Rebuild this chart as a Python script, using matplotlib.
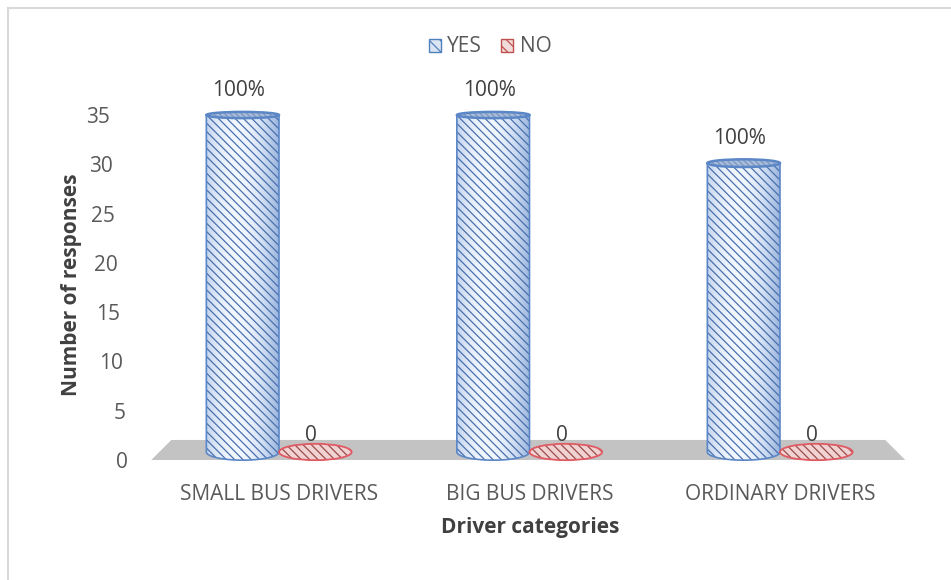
import matplotlib.pyplot as plt
import matplotlib.transforms as mtransforms
from matplotlib.patches import Ellipse, PathPatch, Polygon, Patch
from matplotlib.path import Path
import numpy as np

plt.rcParams['font.family'] = ['Open Sans', 'DejaVu Sans']
plt.rcParams['hatch.linewidth'] = 0.9

categories = ['SMALL BUS DRIVERS', 'BIG BUS DRIVERS', 'ORDINARY DRIVERS']
yes_counts = [35, 35, 30]
no_counts = [0, 0, 0]
y_ticks = [0, 5, 10, 15, 20, 25, 30, 35]

text_grey = '#595959'
title_grey = '#404040'
fs = 15

fig = plt.figure(figsize=(9.51, 5.80), dpi=100)
ax = fig.add_axes([150 / 951, 1 - 470 / 580, 760 / 951, 380 / 580])

x = np.arange(len(categories))
offset = 0.145
width = 0.29


def cylinder(cx, value, face, light, edge, hatch_col):
    # perspective: caps get flatter the higher they sit
    h_bot = 1.7
    h_top = max(h_bot - value * 0.03, 0.6)
    half = width / 2
    t = np.linspace(np.pi, 2 * np.pi, 40)
    arc_x = cx + half * np.cos(t)
    arc_y = h_bot / 2 * np.sin(t)
    verts = [(cx - half, value)] + list(zip(arc_x, arc_y)) + [(cx + half, value), (cx - half, value)]
    body = Path(verts, closed=True)

    if value > 0:
        clip = PathPatch(body, facecolor='none', edgecolor='none', transform=ax.transData)
        ax.add_patch(clip)
        s = np.linspace(0, 1, 200)
        f = np.clip(1 - ((s - 0.42) / 0.62) ** 2, 0, 1)
        c0 = np.array(face)
        c1 = np.array(light)
        grad = (c0[None, :] * (1 - f[:, None]) + c1[None, :] * f[:, None])[None, :, :]
        im = ax.imshow(grad, extent=[cx - half, cx + half, -h_bot, value],
                       aspect='auto', origin='lower', zorder=2)
        im.set_clip_path(clip)
        ax.add_patch(PathPatch(body, facecolor='none', edgecolor=hatch_col, hatch='\\\\\\\\',
                               linewidth=0, zorder=3))
        ax.add_patch(PathPatch(body, facecolor='none', edgecolor=edge, linewidth=1.2, zorder=4))
        ax.add_patch(Ellipse((cx, value), width, h_top, facecolor='#a9bcd9', edgecolor='#7d97c0',
                             hatch='\\\\\\\\\\\\', linewidth=0, zorder=5))
        ax.add_patch(Ellipse((cx, value), width, h_top, facecolor='none', edgecolor=edge,
                             linewidth=1.8, zorder=6))
    else:
        ax.add_patch(Ellipse((cx, value), width, h_bot, facecolor=light, edgecolor=hatch_col,
                             hatch='\\\\\\\\', linewidth=0, zorder=3))
        ax.add_patch(Ellipse((cx, value), width, h_bot, facecolor='none', edgecolor=edge,
                             linewidth=1.3, zorder=4))


# grey floor of the 3D plot
floor = Polygon([(-0.51, -0.83), (-0.43, 1.25), (2.42, 1.25), (2.50, -0.83)],
                closed=True, facecolor='#c3c3c3', edgecolor='none', zorder=1)
ax.add_patch(floor)

for i in range(len(categories)):
    cylinder(x[i] - offset, yes_counts[i], (0.55, 0.67, 0.85), (0.95, 0.97, 1.0),
             '#5b87c7', '#4a70ad')
    cylinder(x[i] + offset, no_counts[i], (0.95, 0.85, 0.85), '#f0d2d2',
             '#e05a63', '#9c4b4b')

    total = yes_counts[i] + no_counts[i]
    pct = yes_counts[i] / total * 100
    ax.annotate(f'{pct:.0f}%', (x[i] - offset, yes_counts[i]), xytext=(-3, 10),
                textcoords='offset points', ha='center', va='bottom',
                fontsize=fs, color=title_grey, zorder=7)
    ax.annotate(f'{no_counts[i]}', (x[i] + offset, no_counts[i]), xytext=(-3, 4),
                textcoords='offset points', ha='center', va='bottom',
                fontsize=fs, color=title_grey, zorder=7)

ax.set_xlim(-0.515, 2.519)
ax.set_ylim(-1.87, 37.6)

ax.set_xticks(x)
ax.set_xticklabels(categories, fontsize=fs, color=text_grey)
ax.set_yticks(y_ticks)
ax.set_yticklabels([str(v) for v in y_ticks], fontsize=fs, color=text_grey)
ax.tick_params(axis='both', length=0)
ax.tick_params(axis='x', pad=10)
ax.tick_params(axis='y', pad=16)

# tick labels lean with the perspective of the back wall
for v, lab in zip(y_ticks, ax.get_yticklabels()):
    dx = -v * 0.5 / 100
    dy = -(35 - v) / 35 * 8 / 100
    lab.set_transform(lab.get_transform() + mtransforms.ScaledTranslation(dx, dy, fig.dpi_scale_trans))

for s in ax.spines.values():
    s.set_visible(False)

ax.set_ylabel('Number of responses', fontsize=fs, fontweight='bold', color=title_grey)
ax.yaxis.set_label_coords(-0.09, 0.487)
ax.set_xlabel('Driver categories', fontsize=fs, fontweight='bold', color=title_grey)
ax.xaxis.set_label_coords(0.5, -0.152)
ax.xaxis.label.set_va('center')

handles = [Patch(facecolor='#dce6f2', edgecolor='#4f81bd', hatch='\\\\\\', label='YES'),
           Patch(facecolor='#f2dcdb', edgecolor='#c0504d', hatch='\\\\\\', label='NO')]
leg = fig.legend(handles=handles, loc='center', bbox_to_anchor=(490 / 951, 1 - 47 / 580),
                 ncol=2, frameon=False, fontsize=fs, handlelength=0.6, handleheight=0.6,
                 handletextpad=0.3, columnspacing=0.9)
for t in leg.get_texts():
    t.set_color(text_grey)

# chart area border (left and top edges visible)
fig.add_artist(plt.Line2D([7.5 / 951, 7.5 / 951], [0, 1 - 8 / 580], color='#d9d9d9', lw=1.5))
fig.add_artist(plt.Line2D([7.5 / 951, 1], [1 - 8 / 580, 1 - 8 / 580], color='#d9d9d9', lw=1.5))

fig.savefig('out.png', dpi=100)
